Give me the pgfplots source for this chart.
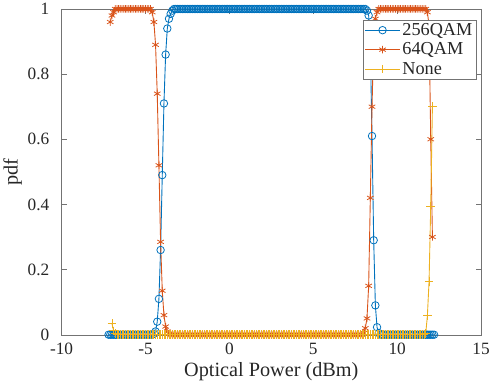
\documentclass[border=0pt]{standalone}
\usepackage{pgfplots}
\pgfplotsset{compat=1.18}
\usepackage{fontspec}
\setmainfont{Liberation Serif}
\definecolor{mblue}{rgb}{0,0.447,0.741}
\definecolor{morange}{rgb}{0.85,0.325,0.098}
\definecolor{myellow}{rgb}{0.929,0.694,0.125}
\begin{document}
\begin{tikzpicture}
\begin{axis}[
  scale only axis,
  width=425pt, height=330pt,
  xmin=-10, xmax=15, ymin=0, ymax=1,
  xtick={-10,-5,0,5,10,15},
  ytick={0,0.2,0.4,0.6,0.8,1},
  yticklabels={0,0.2,0.4,0.6,0.8,1},
  xticklabels={-10,-5,0,5,10,15},
  tick align=inside,
  major tick length=5pt,
  axis line style={draw=black!55},
  every tick/.style={black!55},
  tick label style={font=\fontsize{17.5}{19}\selectfont, text=black!85},
  xticklabel style={yshift=-5pt},
  yticklabel style={xshift=-9pt},
  xlabel={Optical Power (dBm)},
  ylabel={pdf},
  label style={font=\fontsize{20.5}{22}\selectfont, text=black!85},
  xlabel style={yshift=-1pt},
  ylabel style={yshift=-1pt},
  clip=false,
  legend style={at={(0.988,0.967)}, anchor=north east, draw=black!55,
    font=\fontsize{18.5}{19}\selectfont, row sep=2pt, inner sep=1.5pt, text=black!85},
  legend cell align=left,
  legend image code/.code={\draw[mark repeat=2,mark phase=2] plot coordinates {(0cm,0cm) (0.62cm,0cm) (1.24cm,0cm)};},
]
\addplot[color=mblue, line width=0.9pt, mark=o, mark size=3.8pt, mark options={line width=0.8pt}] coordinates {
(-7.2,0)(-7.1,0)(-7.0,0)(-6.9,0)(-6.8,0)(-6.7,0)(-6.6,0)(-6.5,0)(-6.4,0)(-6.3,0)(-6.2,0)(-6.1,0)
(-6.0,0)(-5.9,0)(-5.8,0)(-5.7,0)(-5.6,0)(-5.5,0)(-5.4,0)(-5.3,0)(-5.2,0)(-5.1,0)
(-5.0,0)(-4.9,0)(-4.8,0)(-4.7,0)(-4.6,0)(-4.5,0.003)(-4.4,0.01)(-4.3,0.04)(-4.2,0.11)(-4.1,0.26)
(-4.0,0.49)(-3.9,0.71)(-3.8,0.86)(-3.7,0.94)(-3.6,0.97)(-3.5,0.985)(-3.4,0.995)(-3.3,1)(-3.2,1)(-3.1,1)
(-3.0,1)(-2.9,1)(-2.8,1)(-2.7,1)(-2.6,1)(-2.5,1)(-2.4,1)(-2.3,1)(-2.2,1)(-2.1,1)
(-2.0,1)(-1.9,1)(-1.8,1)(-1.7,1)(-1.6,1)(-1.5,1)(-1.4,1)(-1.3,1)(-1.2,1)(-1.1,1)
(-1.0,1)(-0.9,1)(-0.8,1)(-0.7,1)(-0.6,1)(-0.5,1)(-0.4,1)(-0.3,1)(-0.2,1)(-0.1,1)
(0.0,1)(0.1,1)(0.2,1)(0.3,1)(0.4,1)(0.5,1)(0.6,1)(0.7,1)(0.8,1)(0.9,1)
(1.0,1)(1.1,1)(1.2,1)(1.3,1)(1.4,1)(1.5,1)(1.6,1)(1.7,1)(1.8,1)(1.9,1)
(2.0,1)(2.1,1)(2.2,1)(2.3,1)(2.4,1)(2.5,1)(2.6,1)(2.7,1)(2.8,1)(2.9,1)
(3.0,1)(3.1,1)(3.2,1)(3.3,1)(3.4,1)(3.5,1)(3.6,1)(3.7,1)(3.8,1)(3.9,1)
(4.0,1)(4.1,1)(4.2,1)(4.3,1)(4.4,1)(4.5,1)(4.6,1)(4.7,1)(4.8,1)(4.9,1)
(5.0,1)(5.1,1)(5.2,1)(5.3,1)(5.4,1)(5.5,1)(5.6,1)(5.7,1)(5.8,1)(5.9,1)
(6.0,1)(6.1,1)(6.2,1)(6.3,1)(6.4,1)(6.5,1)(6.6,1)(6.7,1)(6.8,1)(6.9,1)
(7.0,1)(7.1,1)(7.2,1)(7.3,1)(7.4,1)(7.5,1)(7.6,1)(7.7,1)(7.8,1)(7.9,1)
(8.0,1)(8.1,1)(8.2,0.995)(8.3,0.98)(8.4,0.88)(8.5,0.61)(8.6,0.29)(8.7,0.09)(8.8,0.023)(8.9,0.005)
(9.0,0)(9.1,0)(9.2,0)(9.3,0)(9.4,0)(9.5,0)(9.6,0)(9.7,0)(9.8,0)(9.9,0)
(10.0,0)(10.1,0)(10.2,0)(10.3,0)(10.4,0)(10.5,0)(10.6,0)(10.7,0)(10.8,0)(10.9,0)
(11.0,0)(11.1,0)(11.2,0)(11.3,0)(11.4,0)(11.5,0)(11.6,0)(11.7,0)(11.8,0)(11.9,0)
(12.0,0)(12.1,0)(12.2,0)
};
\addlegendentry{256QAM}
\addplot[color=morange, line width=0.9pt, mark=asterisk, mark size=3.8pt, mark options={line width=0.8pt}] coordinates {
(-7.1,0.96)(-7.0,0.98)(-6.9,0.99)(-6.8,1)(-6.7,1)(-6.6,1)(-6.5,1)(-6.4,1)(-6.3,1)(-6.2,1)(-6.1,1)
(-6.0,1)(-5.9,1)(-5.8,1)(-5.7,1)(-5.6,1)(-5.5,1)(-5.4,1)(-5.3,1)(-5.2,1)(-5.1,1)
(-5.0,1)(-4.9,1)(-4.8,1)(-4.7,1)(-4.6,0.99)(-4.5,0.96)(-4.4,0.89)(-4.3,0.74)(-4.2,0.52)(-4.1,0.285)
(-4.0,0.135)(-3.9,0.06)(-3.8,0.025)(-3.7,0.01)(-3.6,0.003)(-3.5,0)(-3.4,0)(-3.3,0)(-3.2,0)(-3.1,0)
(-3.0,0)(-2.9,0)(-2.8,0)(-2.7,0)(-2.6,0)(-2.5,0)(-2.4,0)(-2.3,0)(-2.2,0)(-2.1,0)
(-2.0,0)(-1.9,0)(-1.8,0)(-1.7,0)(-1.6,0)(-1.5,0)(-1.4,0)(-1.3,0)(-1.2,0)(-1.1,0)
(-1.0,0)(-0.9,0)(-0.8,0)(-0.7,0)(-0.6,0)(-0.5,0)(-0.4,0)(-0.3,0)(-0.2,0)(-0.1,0)
(0.0,0)(0.1,0)(0.2,0)(0.3,0)(0.4,0)(0.5,0)(0.6,0)(0.7,0)(0.8,0)(0.9,0)
(1.0,0)(1.1,0)(1.2,0)(1.3,0)(1.4,0)(1.5,0)(1.6,0)(1.7,0)(1.8,0)(1.9,0)
(2.0,0)(2.1,0)(2.2,0)(2.3,0)(2.4,0)(2.5,0)(2.6,0)(2.7,0)(2.8,0)(2.9,0)
(3.0,0)(3.1,0)(3.2,0)(3.3,0)(3.4,0)(3.5,0)(3.6,0)(3.7,0)(3.8,0)(3.9,0)
(4.0,0)(4.1,0)(4.2,0)(4.3,0)(4.4,0)(4.5,0)(4.6,0)(4.7,0)(4.8,0)(4.9,0)
(5.0,0)(5.1,0)(5.2,0)(5.3,0)(5.4,0)(5.5,0)(5.6,0)(5.7,0)(5.8,0)(5.9,0)
(6.0,0)(6.1,0)(6.2,0)(6.3,0)(6.4,0)(6.5,0)(6.6,0)(6.7,0)(6.8,0)(6.9,0)
(7.0,0)(7.1,0)(7.2,0)(7.3,0)(7.4,0)(7.5,0)(7.6,0)(7.7,0)(7.8,0)(7.9,0)
(8.0,0.005)(8.1,0.02)(8.2,0.05)(8.3,0.15)(8.4,0.42)(8.5,0.70)(8.6,0.90)(8.7,0.97)(8.8,0.99)(8.9,1)
(9.0,1)(9.1,1)(9.2,1)(9.3,1)(9.4,1)(9.5,1)(9.6,1)(9.7,1)(9.8,1)(9.9,1)
(10.0,1)(10.1,1)(10.2,1)(10.3,1)(10.4,1)(10.5,1)(10.6,1)(10.7,1)(10.8,1)(10.9,1)
(11.0,1)(11.1,1)(11.2,1)(11.3,1)(11.4,1)(11.5,1)(11.6,1)(11.7,1)(11.8,0.99)(11.9,0.95)
(12.0,0.60)(12.1,0.30)
};
\addlegendentry{64QAM}
\addplot[color=myellow, line width=0.9pt, mark=+, mark size=4.3pt, mark options={line width=0.8pt}] coordinates {
(-7.0,0.035)(-6.9,0.012)(-6.8,0.004)(-6.7,0)(-6.6,0)(-6.5,0)(-6.4,0)(-6.3,0)(-6.2,0)(-6.1,0)
(-6.0,0)(-5.9,0)(-5.8,0)(-5.7,0)(-5.6,0)(-5.5,0)(-5.4,0)(-5.3,0)(-5.2,0)(-5.1,0)
(-5.0,0)(-4.9,0)(-4.8,0)(-4.7,0)(-4.6,0)(-4.5,0)(-4.4,0)(-4.3,0)(-4.2,0)(-4.1,0)
(-4.0,0)(-3.9,0)(-3.8,0)(-3.7,0)(-3.6,0)(-3.5,0)(-3.4,0)(-3.3,0)(-3.2,0)(-3.1,0)
(-3.0,0)(-2.9,0)(-2.8,0)(-2.7,0)(-2.6,0)(-2.5,0)(-2.4,0)(-2.3,0)(-2.2,0)(-2.1,0)
(-2.0,0)(-1.9,0)(-1.8,0)(-1.7,0)(-1.6,0)(-1.5,0)(-1.4,0)(-1.3,0)(-1.2,0)(-1.1,0)
(-1.0,0)(-0.9,0)(-0.8,0)(-0.7,0)(-0.6,0)(-0.5,0)(-0.4,0)(-0.3,0)(-0.2,0)(-0.1,0)
(0.0,0)(0.1,0)(0.2,0)(0.3,0)(0.4,0)(0.5,0)(0.6,0)(0.7,0)(0.8,0)(0.9,0)
(1.0,0)(1.1,0)(1.2,0)(1.3,0)(1.4,0)(1.5,0)(1.6,0)(1.7,0)(1.8,0)(1.9,0)
(2.0,0)(2.1,0)(2.2,0)(2.3,0)(2.4,0)(2.5,0)(2.6,0)(2.7,0)(2.8,0)(2.9,0)
(3.0,0)(3.1,0)(3.2,0)(3.3,0)(3.4,0)(3.5,0)(3.6,0)(3.7,0)(3.8,0)(3.9,0)
(4.0,0)(4.1,0)(4.2,0)(4.3,0)(4.4,0)(4.5,0)(4.6,0)(4.7,0)(4.8,0)(4.9,0)
(5.0,0)(5.1,0)(5.2,0)(5.3,0)(5.4,0)(5.5,0)(5.6,0)(5.7,0)(5.8,0)(5.9,0)
(6.0,0)(6.1,0)(6.2,0)(6.3,0)(6.4,0)(6.5,0)(6.6,0)(6.7,0)(6.8,0)(6.9,0)
(7.0,0)(7.1,0)(7.2,0)(7.3,0)(7.4,0)(7.5,0)(7.6,0)(7.7,0)(7.8,0)(7.9,0)
(8.0,0)(8.1,0)(8.2,0)(8.3,0)(8.4,0)(8.5,0)(8.6,0)(8.7,0)(8.8,0)(8.9,0)
(9.0,0)(9.1,0)(9.2,0)(9.3,0)(9.4,0)(9.5,0)(9.6,0)(9.7,0)(9.8,0)(9.9,0)
(10.0,0)(10.1,0)(10.2,0)(10.3,0)(10.4,0)(10.5,0)(10.6,0)(10.7,0)(10.8,0)(10.9,0)
(11.0,0)(11.1,0)(11.2,0)(11.3,0)(11.4,0)(11.5,0)(11.6,0)(11.7,0.003)(11.8,0.058)(11.9,0.164)
(12.0,0.395)(12.1,0.70)
};
\addlegendentry{None}
\end{axis}
\end{tikzpicture}
\end{document}
